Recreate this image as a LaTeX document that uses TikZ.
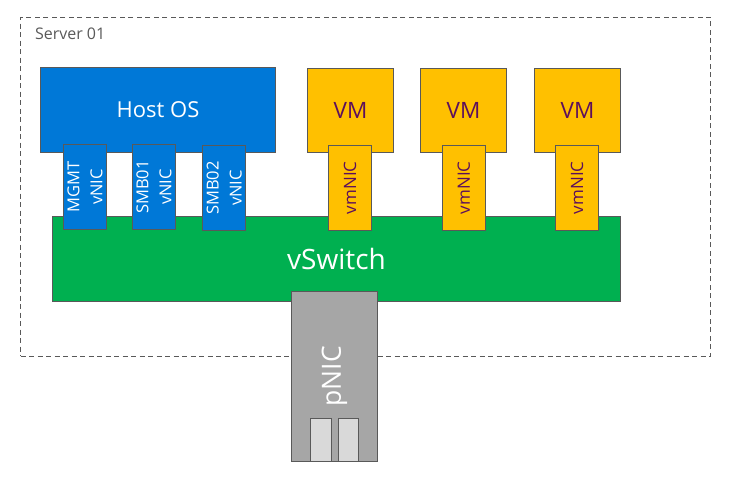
\documentclass[tikz,border=0pt]{standalone}
\usepackage{fontspec}
\setmainfont{Open Sans}
\definecolor{hostblue}{HTML}{0078D7}
\definecolor{vmgold}{HTML}{FFC000}
\definecolor{switchgreen}{HTML}{00B050}
\definecolor{nicgrey}{HTML}{A6A6A6}
\definecolor{portgrey}{HTML}{D9D9D9}
\definecolor{edgegrey}{HTML}{595959}
\definecolor{vmtext}{HTML}{5C0F5C}
\begin{document}
\begin{tikzpicture}[
    x=1pt, y=-1pt,
    every node/.style={rectangle, draw=edgegrey, line width=1pt,
                       inner sep=0pt, outer sep=0pt, align=center},
    hostbox/.style={fill=hostblue, text=white, font=\fontsize{22}{26}\selectfont},
    vnicbox/.style={fill=hostblue, text=white, rotate=90, minimum width=85pt,
                    minimum height=43pt, font=\fontsize{16.5}{23}\selectfont},
    vmbox/.style={fill=vmgold, text=vmtext, minimum width=86pt, minimum height=84pt,
                  font=\fontsize{22.5}{26}\selectfont},
    vmnicbox/.style={fill=vmgold, text=vmtext, rotate=90, minimum width=85pt,
                     minimum height=43pt, font=\fontsize{17}{20}\selectfont},
    portbox/.style={fill=portgrey, minimum height=43pt}]
  \useasboundingbox (0,0) rectangle (730,477);
  \node[draw=edgegrey, dash pattern=on 5pt off 3.5pt, line width=0.75pt,
        minimum width=690pt, minimum height=339pt] (server) at (365.5,186.5) {};
  \node[draw=none, anchor=west, text=edgegrey, font=\fontsize{16}{19}\selectfont]
    (serverlabel) at (35,33.5) {Server 01};
  \node[hostbox, minimum width=235pt, minimum height=84.5pt] (host) at (158,109.75) {Host OS};
  \foreach \vmx/\vmy/\idx in {350.5/110.25/1, 463.5/110.75/2, 577.5/110.25/3}
    \node[vmbox] (vm\idx) at (\vmx,\vmy) {VM};
  \node[fill=switchgreen, text=white, minimum width=568pt, minimum height=84.5pt,
        font=\fontsize{28}{32}\selectfont] (vswitch) at (336.5,258.75) {vSwitch};
  \node[vnicbox] (mgmt) at (85,187) {MGMT\\vNIC};
  \node[vnicbox] (smb1) at (154,187) {SMB01\\vNIC};
  \node[vnicbox] (smb2) at (224.25,188) {SMB02\\vNIC};
  \foreach \nicx/\idx in {350/1, 463.75/2, 577/3}
    \node[vmnicbox] (vmnic\idx) at (\nicx,187.75) {vmNIC};
  \node[fill=nicgrey, text=white, rotate=90, minimum width=169.5pt, minimum height=86pt,
        font=\fontsize{26.5}{30}\selectfont] (pnic) at (334.5,376.25) {pNIC};
  \node[portbox, minimum width=21pt] (port1) at (321,439.5) {};
  \node[portbox, minimum width=20pt] (port2) at (348.5,439.5) {};
\end{tikzpicture}
\end{document}
